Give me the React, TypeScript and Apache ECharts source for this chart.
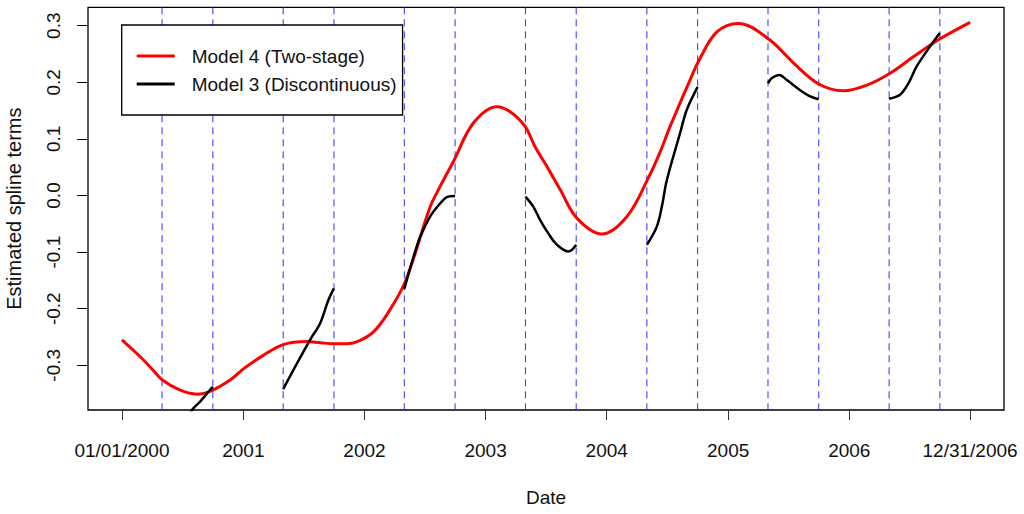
import React, { useEffect, useRef } from "react";
import * as echarts from "echarts";

// ---- axis ticks ----
// x values are days since 01/01/2000
const xTickDays = [0, 366, 731, 1096, 1461, 1827, 2192, 2556];
const xTickLabels = ["01/01/2000", "2001", "2002", "2003", "2004", "2005", "2006", "12/31/2006"];
const yTicks = [-0.3, -0.2, -0.1, 0.0, 0.1, 0.2, 0.3];

// knots (May 1 and Oct 1 of each year), days since 01/01/2000
const knotDays = [121, 274, 486, 639, 851, 1004, 1216, 1369, 1582, 1735, 1947, 2100, 2312, 2465];

// ---- Model 4 (Two-stage) ----
const model4Days = [
  0, 28, 55, 90, 122, 176, 226, 269, 326, 369, 427, 488,
  557, 597, 638, 678, 718, 758, 798, 854, 929, 959,
  999, 1059, 1130, 1170, 1215, 1245, 1281, 1321, 1371, 1446,
  1522, 1588, 1622, 1652, 1712, 1742, 1793, 1858, 1950, 2024,
  2100, 2174, 2245, 2315, 2385, 2463, 2556,
];
const model4Values = [
  -0.255, -0.27, -0.285, -0.306, -0.326, -0.344, -0.351, -0.345, -0.326, -0.305, -0.282, -0.263,
  -0.258, -0.26, -0.262, -0.262, -0.256, -0.241, -0.211, -0.152, -0.02, 0.016,
  0.06, 0.128, 0.157, 0.148, 0.122, 0.086, 0.051, 0.01, -0.04, -0.068,
  -0.037, 0.033, 0.077, 0.122, 0.204, 0.242, 0.289, 0.304, 0.276, 0.234,
  0.197, 0.185, 0.195, 0.216, 0.245, 0.276, 0.306,
];

// ---- Model 3 (Discontinuous): one segment per warm season ----
const m3Days2000 = [121, 160, 190, 211, 236, 269, 274];
const m3Vals2000 = [-0.45, -0.425, -0.402, -0.379, -0.364, -0.341, -0.338];
const m3Days2001 = [486, 517, 567, 597, 622, 639];
const m3Vals2001 = [-0.342, -0.308, -0.255, -0.226, -0.185, -0.164];
const m3Days2002 = [851, 879, 899, 929, 959, 979, 1004];
const m3Vals2002 = [-0.165, -0.108, -0.073, -0.037, -0.014, -0.003, -0.001];
const m3Days2003 = [1216, 1240, 1260, 1285, 1311, 1346, 1369];
const m3Vals2003 = [-0.002, -0.02, -0.043, -0.067, -0.087, -0.099, -0.087];
const m3Days2004 = [1582, 1612, 1627, 1642, 1682, 1702, 1735];
const m3Vals2004 = [-0.087, -0.055, -0.02, 0.027, 0.11, 0.151, 0.192];
const m3Days2005 = [1947, 1958, 1981, 2004, 2044, 2074, 2100];
const m3Vals2005 = [0.198, 0.207, 0.213, 0.204, 0.186, 0.175, 0.17];
const m3Days2006 = [2312, 2345, 2370, 2395, 2435, 2465];
const m3Vals2006 = [0.171, 0.178, 0.198, 0.228, 0.263, 0.287];

const m3Segments = [
  [m3Days2000, m3Vals2000],
  [m3Days2001, m3Vals2001],
  [m3Days2002, m3Vals2002],
  [m3Days2003, m3Vals2003],
  [m3Days2004, m3Vals2004],
  [m3Days2005, m3Vals2005],
  [m3Days2006, m3Vals2006],
];

const M4 = "Model 4 (Two-stage)";
const M3 = "Model 3 (Discontinuous)";

const FONT = "'Liberation Sans', Arial, sans-serif";
const TXT = "#111";

const pairs = (d: number[], v: number[]) => d.map((x, i) => [x, v[i]]);

export default function App() {
  const ref = useRef<HTMLDivElement>(null);
  useEffect(() => {
    const chart = echarts.init(ref.current!, null, { renderer: "svg" });
    const option: any = {
      animation: false,
      backgroundColor: "#fff",
      grid: {
        left: 88,
        right: 20,
        top: 7.3,
        bottom: 104,
        show: true,
        borderColor: "#000",
        borderWidth: 1.3,
        backgroundColor: "transparent",
        containLabel: false,
        outerBoundsMode: "none",
      },
      legend: {
        orient: "vertical",
        left: 121.7,
        top: 25,
        data: [
          { name: M4, icon: "rect" },
          { name: M3, icon: "rect" },
        ],
        itemWidth: 38,
        itemHeight: 3,
        itemGap: 0,
        padding: [17, 6, 17, 15],
        borderColor: "#000",
        borderWidth: 1.3,
        backgroundColor: "#fff",
        selectedMode: false,
        textStyle: {
          fontFamily: FONT,
          fontSize: 19,
          color: TXT,
          lineHeight: 28,
          padding: [0, 0, 0, 12],
        },
      },
      xAxis: {
        type: "value",
        min: -102.24,
        max: 2658.24,
        splitLine: { show: false },
        axisLine: { show: false, onZero: false },
        axisTick: {
          show: true,
          length: 10,
          customValues: xTickDays,
          lineStyle: { color: "#333", width: 1 },
        },
        axisLabel: {
          customValues: xTickDays,
          formatter: (v: number) => {
            const i = xTickDays.indexOf(v);
            return i >= 0 ? xTickLabels[i] : "";
          },
          margin: 31,
          fontFamily: FONT,
          fontSize: 19,
          color: TXT,
          showMinLabel: true,
          showMaxLabel: true,
        },
        name: "Date",
        nameLocation: "middle",
        nameGap: 78,
        nameTextStyle: { fontFamily: FONT, fontSize: 19, color: TXT },
      },
      yAxis: {
        type: "value",
        min: -0.379,
        max: 0.3325,
        splitLine: { show: false },
        axisLine: { show: false, onZero: false },
        axisTick: {
          show: true,
          length: 11,
          customValues: yTicks,
          lineStyle: { color: "#000", width: 1 },
        },
        axisLabel: {
          customValues: yTicks,
          rotate: 90,
          formatter: (v: number) => v.toFixed(1),
          margin: 25,
          fontFamily: FONT,
          fontSize: 19,
          color: TXT,
          showMinLabel: true,
          showMaxLabel: true,
        },
        name: "Estimated spline terms",
        nameLocation: "middle",
        nameRotate: 90,
        nameGap: 64,
        nameTextStyle: { fontFamily: FONT, fontSize: 20, color: TXT },
      },
      series: [
        {
          type: "custom",
          name: "knots",
          data: knotDays.map((d) => [d, 0]),
          encode: { x: 0, y: 1 },
          silent: true,
          z: 1,
          renderItem: (params: any, api: any) => {
            const x = api.coord([api.value(0), 0])[0];
            const cs = params.coordSys;
            return {
              type: "line",
              shape: { x1: x, y1: cs.y, x2: x, y2: cs.y + cs.height },
              style: { stroke: "#2f2fff", lineWidth: 1, lineDash: [7, 5], fill: null },
            };
          },
        },
        {
          type: "line",
          name: M4,
          data: pairs(model4Days, model4Values),
          smooth: 0.35,
          showSymbol: false,
          symbol: "none",
          clip: true,
          z: 3,
          lineStyle: { color: "#ff0000", width: 3 },
          itemStyle: { color: "#ff0000" },
          emphasis: { disabled: true },
        },
        ...m3Segments.map(([d, v]) => ({
          type: "line",
          name: M3,
          data: pairs(d as number[], v as number[]),
          smooth: 0.35,
          showSymbol: false,
          symbol: "none",
          clip: true,
          z: 4,
          lineStyle: { color: "#000", width: 2.5 },
          itemStyle: { color: "#000" },
          emphasis: { disabled: true },
        })),
      ],
    };
    chart.setOption(option);
    return () => chart.dispose();
  }, []);
  return (
    <div
      ref={ref}
      style={{ position: "absolute", left: 0, top: 0, width: 1024, height: 514, background: "#fff" }}
    />
  );
}
